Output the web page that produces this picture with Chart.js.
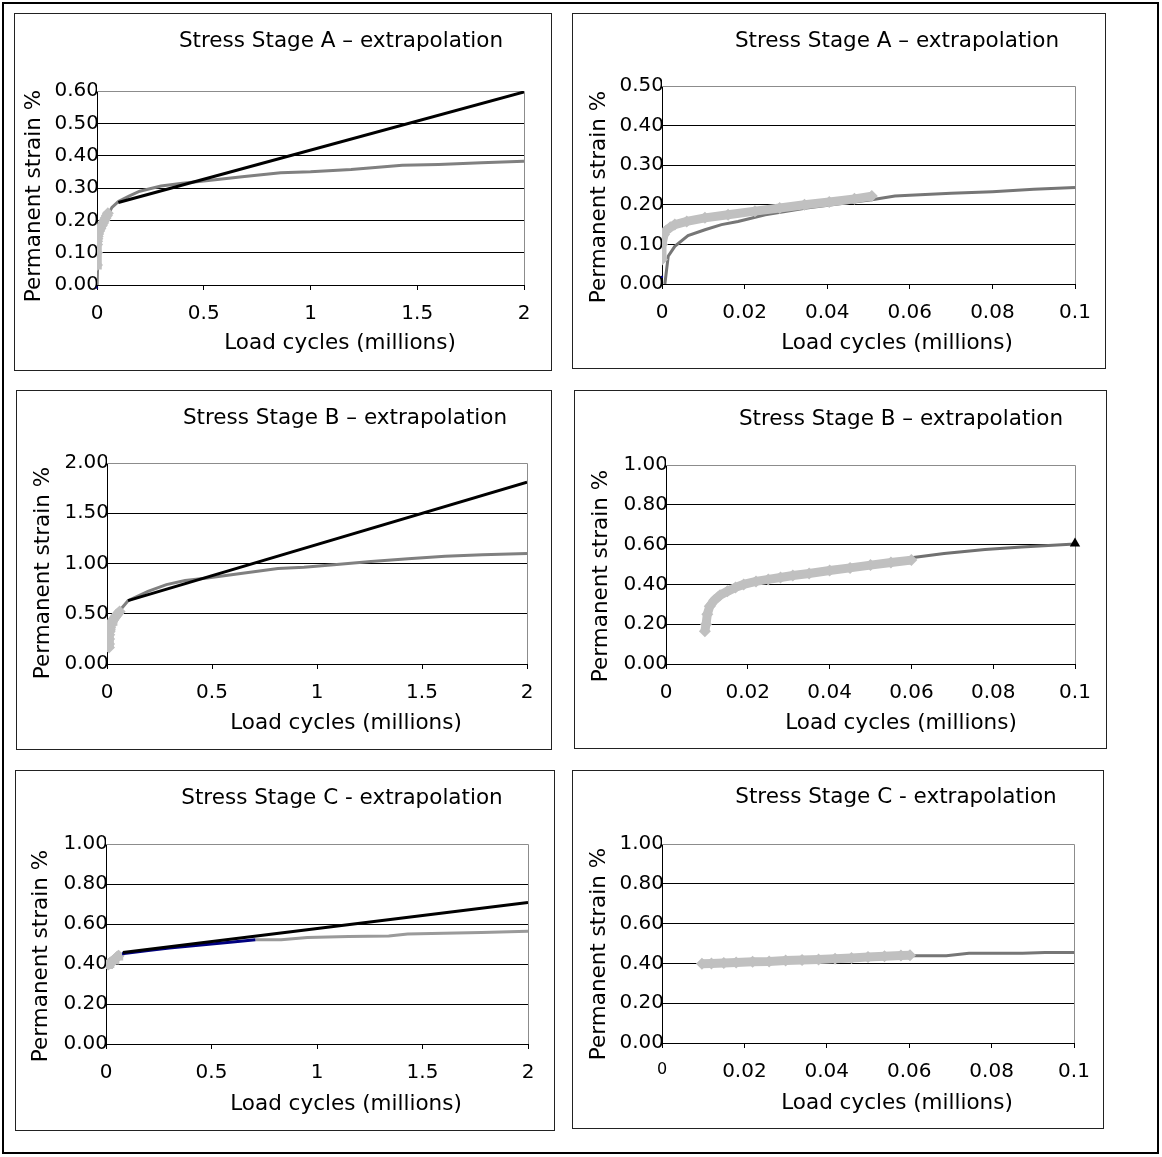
<!DOCTYPE html>
<html>
<head>
<meta charset="utf-8">
<script src="https://cdn.jsdelivr.net/npm/chart.js@4.4.1/dist/chart.umd.min.js"></script>
<style>
  body { margin: 0; background: #fff; }
  #frame { position: absolute; left: 2px; top: 2px; width: 1153px; height: 1148px; border: 2px solid #000; }
  .panel { position: absolute; border: 1px solid #222; background: #fff; }
  .panel canvas { display: block; }
</style>
</head>
<body>
<div id="frame"></div>
<div id="panels"></div>
<script>
/* ---------- data (load cycles in millions, permanent strain %) ---------- */
// Stage A
const measA_x  = [0, 0, 0.0005, 0.001, 0.002, 0.0031, 0.006, 0.0104, 0.016, 0.0225, 0.0285, 0.0345, 0.0405, 0.0466, 0.0508];
const measA_y  = [0.062, 0.1, 0.125, 0.135, 0.143, 0.15, 0.158, 0.167, 0.175, 0.184, 0.192, 0.2, 0.207, 0.215, 0.222];
const modelA_x = [0.0007, 0.0015, 0.0031, 0.0063, 0.0104, 0.0144, 0.0184, 0.025, 0.035, 0.045, 0.0508, 0.0564, 0.06, 0.07, 0.08, 0.09, 0.1];
const modelA_y = [0.0, 0.07, 0.095, 0.122, 0.137, 0.15, 0.158, 0.175, 0.192, 0.205, 0.213, 0.222, 0.224, 0.229, 0.233, 0.239, 0.244];
const longA_x  = [0.0006, 0.005, 0.02, 0.05, 0.07, 0.1, 0.15, 0.2, 0.3, 0.4, 0.5, 0.68, 0.86, 1.0, 1.19, 1.43, 1.6, 1.8, 2.0];
const longA_y  = [0.0, 0.11, 0.17, 0.215, 0.24, 0.258, 0.275, 0.29, 0.306, 0.315, 0.322, 0.335, 0.347, 0.35, 0.357, 0.37, 0.373, 0.378, 0.383];
const extrA_x  = [0.1, 2.0];
const extrA_y  = [0.255, 0.597];
const blueA_long  = [0, -0.008];
const blueA_short = [0, 0.018];

// Stage B
const measB_x  = [0.0095, 0.0098, 0.0101, 0.0107, 0.0118, 0.0132, 0.015, 0.017, 0.019, 0.022, 0.025, 0.028, 0.031, 0.035, 0.04, 0.045, 0.05, 0.055, 0.06];
const measB_y  = [0.165, 0.2, 0.25, 0.29, 0.32, 0.345, 0.365, 0.385, 0.4, 0.415, 0.425, 0.435, 0.445, 0.455, 0.47, 0.483, 0.497, 0.51, 0.522];
const modelB_x = [0.0098, 0.011, 0.013, 0.016, 0.02, 0.025, 0.03, 0.04, 0.05, 0.06, 0.068, 0.078, 0.087, 0.1];
const modelB_y = [0.28, 0.315, 0.345, 0.37, 0.395, 0.418, 0.437, 0.467, 0.5, 0.534, 0.555, 0.575, 0.588, 0.603];
const longB_x  = [0.0098, 0.03, 0.06, 0.1, 0.195, 0.283, 0.372, 0.478, 0.637, 0.814, 0.938, 1.08, 1.257, 1.434, 1.61, 1.788, 2.0];
const longB_y  = [0.28, 0.437, 0.53, 0.63, 0.723, 0.79, 0.83, 0.856, 0.9, 0.95, 0.962, 0.988, 1.02, 1.048, 1.071, 1.088, 1.1];
const extrB_x  = [0.1, 2.0];
const extrB_y  = [0.63, 1.81];
const endB     = [0.1, 0.605];

// Stage C
const measC_x  = [0.0097, 0.012, 0.015, 0.018, 0.022, 0.026, 0.03, 0.034, 0.038, 0.042, 0.046, 0.05, 0.054, 0.058, 0.0602];
const measC_y  = [0.398, 0.4, 0.402, 0.405, 0.408, 0.41, 0.414, 0.417, 0.42, 0.423, 0.427, 0.432, 0.436, 0.44, 0.441];
const modelC_x = [0.01, 0.02, 0.03, 0.04, 0.05, 0.06, 0.069, 0.0745, 0.0875, 0.093, 0.1];
const modelC_y = [0.40, 0.405, 0.413, 0.42, 0.43, 0.438, 0.438, 0.451, 0.451, 0.455, 0.455];
const blueC_x  = [0.076, 0.2, 0.3, 0.4, 0.5, 0.6, 0.708];
const blueC_y  = [0.451, 0.468, 0.48, 0.49, 0.5, 0.51, 0.521];
const longC_x  = [0.708, 0.83, 0.954, 1.15, 1.34, 1.43, 1.6, 1.78, 2.0];
const longC_y  = [0.521, 0.521, 0.532, 0.537, 0.54, 0.55, 0.554, 0.557, 0.564];
const extrC_x  = [0.08, 2.0];
const extrC_y  = [0.457, 0.708];

// axes
const longX  = { min: 0, max: 2,   step: 0.5 };
const shortX = { min: 0, max: 0.1, step: 0.02 };

/* ---------- helpers ---------- */
const FONT = 'DejaVu Sans';
const $ = (sel) => document.querySelector(sel);
const xy = (xs, ys) => xs.map((x, i) => ({ x, y: ys[i] }));

const extrap = (d) => ({ data: d, showLine: true, borderColor: '#000', borderWidth: 3, pointRadius: 0 });
const model  = (d, c = '#808080') => ({ data: d, showLine: true, borderColor: c, borderWidth: 3, pointRadius: 0 });
const meas   = (d) => ({
    data: d, showLine: true, borderColor: '#c0c0c0', borderWidth: 9,
    pointStyle: 'rectRot', pointRadius: 6,
    pointBackgroundColor: '#c0c0c0', pointBorderColor: '#c0c0c0', pointBorderWidth: 0
});
const dot    = (p, c, style = 'rect', r = 1.5) => ({
    data: [{ x: p[0], y: p[1] }], showLine: false, pointStyle: style, pointRadius: r,
    pointBackgroundColor: c, pointBorderColor: c, pointBorderWidth: 0, clip: false
});

// grey top/right plot frame + titles
const deco = {
    id: 'deco',
    beforeDatasetsDraw(chart) {
        const { ctx, chartArea: a } = chart;
        ctx.save();
        ctx.strokeStyle = '#8c8c8c';
        ctx.lineWidth = 1;
        ctx.beginPath();
        ctx.moveTo(a.left, Math.round(a.top) + 0.5);
        ctx.lineTo(Math.round(a.right) + 0.5, Math.round(a.top) + 0.5);
        ctx.lineTo(Math.round(a.right) + 0.5, a.bottom);
        ctx.stroke();
        ctx.restore();
    },
    afterDraw(chart, args, o) {
        const { ctx } = chart;
        ctx.save();
        ctx.fillStyle = '#000';
        ctx.font = `21.5px "${FONT}"`;
        ctx.textAlign = 'center';
        ctx.textBaseline = 'alphabetic';
        ctx.fillText(o.title, o.t[0], o.t[1]);
        ctx.fillText('Load cycles (millions)', o.xt[0], o.xt[1]);
        ctx.translate(o.yt[0] + 8, o.yt[1]);   // baseline to the right of cap centre
        ctx.rotate(-Math.PI / 2);
        ctx.fillText('Permanent strain %', 0, 0);
        ctx.restore();
    }
};

// keeps the white plot-area fill scale on top of the chart area
const fitToArea = (s) => {
    const a = s.chart && s.chart.chartArea;
    if (!a) return;
    s.left = a.left; s.right = a.right; s.top = a.top; s.bottom = a.bottom;
    s.width = a.right - a.left; s.height = a.bottom - a.top;
};

/* ---------- panels ---------- */
// page pixels: box = panel frame, plot = [x at min, y at max, x at max, y at min]
const panels = [
    { box: [14, 13, 551, 370],     plot: [97, 91, 524, 285],     t: [341, 47],   xt: [340, 349],   yt: [31.5, 196],
      title: 'Stress Stage A \u2013 extrapolation', x: longX, y: [0, 0.6, 0.1],
      sets: [extrap(xy(extrA_x, extrA_y)), meas(xy(measA_x, measA_y)), model(xy(longA_x, longA_y)), dot(blueA_long, '#000080')] },
    { box: [572, 13, 1105, 368],   plot: [662, 86, 1075, 284],   t: [897, 47],   xt: [897, 349],   yt: [597, 197],
      title: 'Stress Stage A \u2013 extrapolation', x: shortX, y: [0, 0.5, 0.1],
      sets: [meas(xy(measA_x, measA_y)), model(xy(modelA_x, modelA_y), '#767676'), dot(blueA_short, '#000080')] },
    { box: [16, 390, 551, 749],    plot: [107, 463, 527, 664],   t: [345, 424],  xt: [346, 729],   yt: [41, 573],
      title: 'Stress Stage B \u2013 extrapolation', x: longX, y: [0, 2, 0.5],
      sets: [extrap(xy(extrB_x, extrB_y)), meas(xy(measB_x, measB_y)), model(xy(longB_x, longB_y))] },
    { box: [574, 390, 1106, 748],  plot: [666, 465, 1075, 664],  t: [901, 425],  xt: [901, 729],   yt: [599, 576],
      title: 'Stress Stage B \u2013 extrapolation', x: shortX, y: [0, 1, 0.2],
      sets: [dot(endB, '#000', 'triangle', 6), meas(xy(measB_x, measB_y)), model(xy(modelB_x, modelB_y), '#707070')] },
    { box: [15, 770, 554, 1130],   plot: [106, 844, 528, 1044],  t: [342, 804],  xt: [346, 1110],  yt: [39, 956],
      title: 'Stress Stage C - extrapolation', x: longX, y: [0, 1, 0.2],
      sets: [extrap(xy(extrC_x, extrC_y)), model(xy(blueC_x, blueC_y), '#000080'), meas(xy(measC_x, measC_y)), model(xy(longC_x, longC_y), '#9a9a9a')] },
    { box: [572, 770, 1103, 1128], plot: [662, 844, 1074, 1043], t: [896, 803],  xt: [897, 1109],  yt: [597, 954],
      title: 'Stress Stage C - extrapolation', x: shortX, y: [0, 1, 0.2], smallZero: true,
      sets: [meas(xy(measC_x, measC_y)), model(xy(modelC_x, modelC_y), '#767676')] }
];

panels.forEach((p) => {
    const [L, T, R, B] = p.box;
    const W = R - L - 1, H = B - T - 1;
    const ox = L + 1, oy = T + 1;
    const loc = (pt) => [pt[0] - ox, pt[1] - oy];

    const div = document.createElement('div');
    div.className = 'panel';
    div.style.left = L + 'px';
    div.style.top = T + 'px';
    const cv = document.createElement('canvas');
    cv.width = W; cv.height = H;
    cv.style.width = W + 'px'; cv.style.height = H + 'px';
    div.appendChild(cv);
    $('#panels').appendChild(div);

    const yW = p.plot[0] - ox;
    const xH = H - (p.plot[3] - oy);

    new Chart(cv.getContext('2d'), {
        type: 'scatter',
        data: { datasets: p.sets },
        plugins: [deco],
        options: {
            responsive: false,
            animation: false,
            events: [],
            layout: { padding: { left: 0, bottom: 0, top: p.plot[1] - oy, right: W - (p.plot[2] - ox) } },
            plugins: {
                legend: { display: false },
                tooltip: { enabled: false },
                deco: { title: p.title, t: loc(p.t), xt: loc(p.xt), yt: loc(p.yt) }
            },
            scales: {
                x: {
                    type: 'linear', min: p.x.min, max: p.x.max,
                    ticks: {
                        stepSize: p.x.step, autoSkip: false, maxRotation: 0, padding: 12, color: '#000',
                        font: (c) => (p.smallZero && c.tick && c.tick.value === 0)
                            ? { family: FONT, size: 16, lineHeight: 1.25 }
                            : { family: FONT, size: 20 },
                        callback: (v) => String(+v.toFixed(3))
                    },
                    grid: { drawOnChartArea: false, drawTicks: true, tickLength: 5, color: '#000' },
                    border: { color: '#000', width: 1 },
                    afterFit: (s) => { s.height = xH; }
                },
                y: {
                    min: p.y[0], max: p.y[1],
                    ticks: { stepSize: p.y[2], padding: -2, color: '#000', z: -2,
                             font: { family: FONT, size: 20 }, callback: (v) => v.toFixed(2) },
                    grid: { color: '#000', lineWidth: 1, drawTicks: false },
                    border: { color: '#000', width: 1 },
                    afterFit: (s) => { s.width = yW; }
                },
                // white plot-area fill, drawn over the tick labels that run into the plot
                bg: {
                    type: 'linear', axis: 'y', position: 'chartArea', min: 0, max: 1,
                    backgroundColor: '#fff',
                    grid: { display: false, z: -1.5 },
                    ticks: { display: false },
                    border: { display: false },
                    afterFit: fitToArea,
                    afterUpdate: fitToArea
                }
            }
        }
    });
});
</script>
</body>
</html>
